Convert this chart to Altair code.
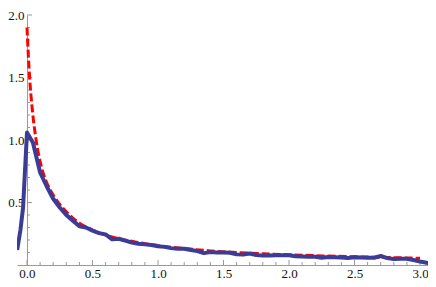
import altair as alt
import pandas as pd

# ---- data ----
blue_x = [-0.075, -0.05, -0.03, 0.0, 0.045,
          0.10, 0.15, 0.20, 0.25, 0.30, 0.35, 0.40, 0.45, 0.50, 0.55,
          0.60, 0.65, 0.70, 0.75, 0.80, 0.85, 0.90, 0.95, 1.00, 1.05,
          1.10, 1.15, 1.20, 1.25, 1.30, 1.35, 1.40, 1.45, 1.50, 1.55,
          1.60, 1.65, 1.70, 1.75, 1.80, 1.85, 1.90, 1.95, 2.00, 2.05,
          2.10, 2.15, 2.20, 2.25, 2.30, 2.35, 2.40, 2.45, 2.50, 2.55,
          2.60, 2.65, 2.70, 2.75, 2.80, 2.85, 2.90, 2.95, 3.00, 3.05, 3.08]
blue_y = [0.12, 0.28, 0.46, 1.06, 0.98,
          0.74, 0.63, 0.53, 0.46, 0.40, 0.355, 0.31, 0.30, 0.275, 0.255,
          0.245, 0.205, 0.21, 0.195, 0.18, 0.17, 0.165, 0.16, 0.15, 0.145,
          0.135, 0.13, 0.13, 0.12, 0.112, 0.095, 0.103, 0.10, 0.10, 0.098,
          0.085, 0.083, 0.092, 0.08, 0.075, 0.076, 0.078, 0.078, 0.078, 0.07,
          0.068, 0.066, 0.066, 0.058, 0.064, 0.062, 0.06, 0.056, 0.062, 0.06,
          0.058, 0.058, 0.072, 0.055, 0.048, 0.05, 0.05, 0.04, 0.028, 0.018, 0.01]

red_x = [0.0, 0.01, 0.02, 0.03, 0.04, 0.05, 0.06, 0.08, 0.10, 0.125, 0.15,
         0.20, 0.25, 0.30, 0.35, 0.40, 0.50, 0.60, 0.70, 0.80, 0.90, 1.00,
         1.20, 1.40, 1.60, 1.80, 2.00, 2.25, 2.50, 2.75, 3.00]
red_y = [1.90, 1.68, 1.50, 1.36, 1.25, 1.15, 1.07, 0.93, 0.83, 0.73, 0.66,
         0.56, 0.485, 0.425, 0.375, 0.335, 0.28, 0.24, 0.21, 0.19, 0.17, 0.155,
         0.132, 0.113, 0.10, 0.09, 0.082, 0.073, 0.066, 0.06, 0.054]

x_major = [0.0, 0.5, 1.0, 1.5, 2.0, 2.5, 3.0]
x_minor = [0.1, 0.2, 0.3, 0.4, 0.6, 0.7, 0.8, 0.9, 1.1, 1.2, 1.3, 1.4,
           1.6, 1.7, 1.8, 1.9, 2.1, 2.2, 2.3, 2.4, 2.6, 2.7, 2.8, 2.9]
y_major = [0.5, 1.0, 1.5, 2.0]
y_minor = [0.1, 0.2, 0.3, 0.4, 0.6, 0.7, 0.8, 0.9, 1.1, 1.2, 1.3, 1.4,
           1.6, 1.7, 1.8, 1.9]

blue = pd.DataFrame({"x": blue_x, "y": blue_y})
red = pd.DataFrame({"x": red_x, "y": red_y})
xmaj = pd.DataFrame({"v": x_major})
xmin = pd.DataFrame({"v": x_minor})
ymaj = pd.DataFrame({"v": y_major})
ymin = pd.DataFrame({"v": y_minor})

# ---- layout ----
W, H = 411, 250
PAD = {"left": 9, "top": 7, "right": 0, "bottom": 14}
X_DOMAIN = [-0.0763, 3.061]
Y_DOMAIN = [0.0, 2.0]
Y_AXIS_SHIFT = 10          # px from plot left to x = 0
GRAY = "#9a9a9a"
FONT = "Liberation Serif"
FSIZE = 13

xs = alt.Scale(domain=X_DOMAIN, nice=False, zero=False)
ys = alt.Scale(domain=Y_DOMAIN, nice=False, zero=False)

x_main = alt.Axis(orient="bottom", values=x_major, format=".1f", ticks=False,
                  grid=False, domainColor=GRAY, domainWidth=1, labelFont=FONT,
                  labelFontSize=FSIZE, labelColor="#111111", labelPadding=2,
                  labelFlush=False, labelOverlap=False, title=None)
y_main = alt.Axis(orient="left", offset=-Y_AXIS_SHIFT, values=y_major,
                  format=".1f", ticks=False, grid=False, domainColor=GRAY,
                  domainWidth=1, labelFont=FONT, labelFontSize=FSIZE,
                  labelColor="#111111", labelPadding=3, labelFlush=False,
                  labelOverlap=False, title=None)

red_layer = alt.Chart(red).mark_line(
    color="#ff0000", strokeWidth=3, strokeDash=[8, 3], clip=True,
    interpolate="monotone"
).encode(x=alt.X("x:Q", scale=xs, axis=x_main),
         y=alt.Y("y:Q", scale=ys, axis=y_main))

blue_layer = alt.Chart(blue).mark_line(
    color="#3b3b98", strokeWidth=4, clip=True, strokeJoin="round"
).encode(x=alt.X("x:Q", scale=xs, axis=x_main),
         y=alt.Y("y:Q", scale=ys, axis=y_main))

# inward tick marks along the axes (positions from the tick-value arrays)
xt_major = alt.Chart(xmaj).mark_rule(color=GRAY, strokeWidth=1).encode(
    x=alt.X("v:Q", scale=xs, axis=x_main), y=alt.value(H), y2=alt.value(H - 5))
xt_minor = alt.Chart(xmin).mark_rule(color=GRAY, strokeWidth=1).encode(
    x=alt.X("v:Q", scale=xs, axis=x_main), y=alt.value(H), y2=alt.value(H - 3))
yt_major = alt.Chart(ymaj).mark_rule(color=GRAY, strokeWidth=1).encode(
    y=alt.Y("v:Q", scale=ys, axis=y_main), x=alt.value(Y_AXIS_SHIFT),
    x2=alt.value(Y_AXIS_SHIFT + 5))
yt_minor = alt.Chart(ymin).mark_rule(color=GRAY, strokeWidth=1).encode(
    y=alt.Y("v:Q", scale=ys, axis=y_main), x=alt.value(Y_AXIS_SHIFT),
    x2=alt.value(Y_AXIS_SHIFT + 3))

chart = alt.layer(
    xt_major, xt_minor, yt_major, yt_minor, red_layer, blue_layer
).properties(
    width=W, height=H, padding=PAD,
    autosize=alt.AutoSizeParams(type="none"),
    background="white"
).configure_view(stroke=None).configure_axis(
    labelFont=FONT, labelFontSize=FSIZE, labelColor="#111111"
)

chart.save("out.html", embed_options={"renderer": "svg", "actions": False})
